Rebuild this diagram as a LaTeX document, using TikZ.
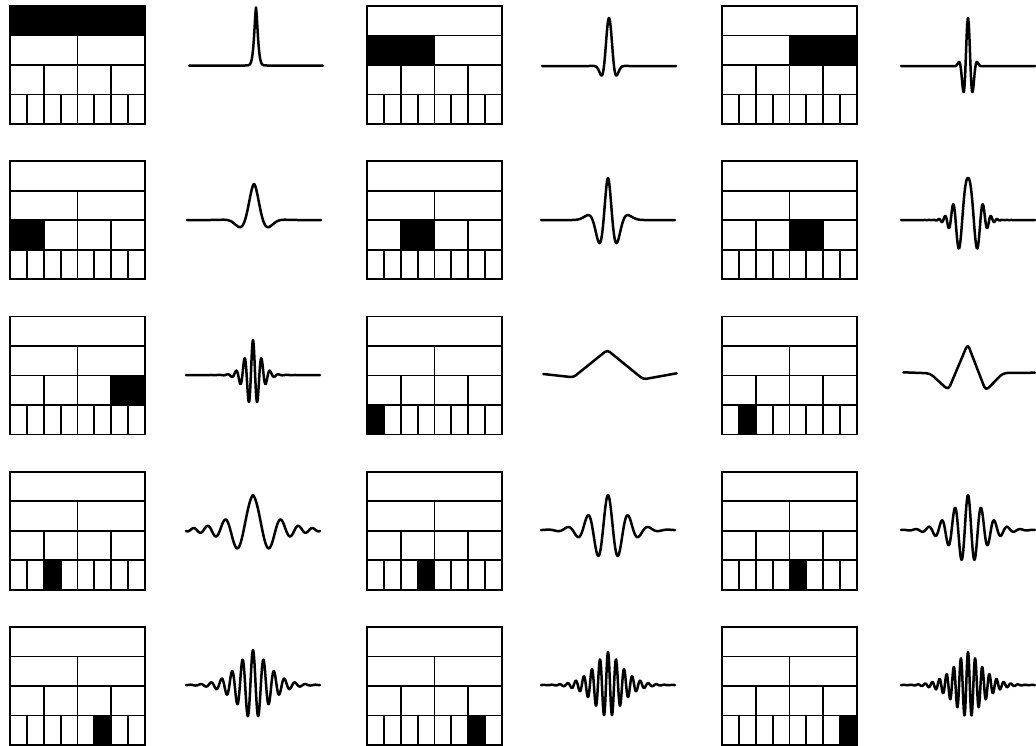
\documentclass[tikz,border=0pt]{standalone}
\usepackage{tikz}
\tikzset{
  boxline/.style={line width=1.8pt, line cap=rect},
  waveline/.style={line width=2.5pt, line join=round, line cap=round},
}
% x0, y0, level, index
\newcommand{\wpbox}[4]{%
  \pgfmathsetmacro{\wpcw}{135/(2^#3)}%
  \pgfmathsetmacro{\wpcx}{#1+#4*\wpcw}%
  \pgfmathsetmacro{\wpcy}{#2+#3*29.5}%
  \fill (\wpcx,\wpcy) rectangle ++(\wpcw,29.5);
  \draw[boxline] (#1,#2) rectangle ++(135,118);
  \foreach \r in {1,2,3} \draw[boxline] ({#1},{#2+\r*29.5}) -- ++(135,0);
  \foreach \r in {1,2,3}{%
    \pgfmathtruncatemacro{\wpnn}{2^\r-1}%
    \foreach \c in {1,...,\wpnn} \draw[boxline] ({#1+\c*135/2^\r},{#2+\r*29.5}) -- ++(0,29.5);
  }%
}
% cx, baseline, A, s, p, w, k
\newcommand{\wpwave}[7]{%
  \draw[waveline] plot[domain=-67:67, samples=401, variable=\t]
    ({#1+\t}, {#2-#3*exp(-min(pow(abs(\t)/#4+0.0001,#5),12))*cos(deg(#6*abs(\t)+#7*\t*\t))});
}
\begin{document}
\begin{tikzpicture}[x=1pt,y=-1pt]
\useasboundingbox (0,0) rectangle (1036,745);
% row 1
\wpbox{10}{6}{0}{0}
\wpwave{256}{65.5}{58}{2.5}{1.5}{0}{0}
\wpbox{367}{6}{1}{0}
\wpwave{609}{66}{48}{6.65}{2}{0.314}{0}
\wpbox{722}{6}{1}{1}
\wpwave{968}{66}{48}{6}{2}{0.628}{0}
% row 2
\wpbox{10}{161.25}{2}{0}
\wpwave{254}{220}{36}{11.45}{1.5}{0.175}{0}
\wpbox{367}{161.25}{2}{1}
\wpwave{608}{220}{42}{12.66}{1.5}{0.371}{-0.00426}
\wpbox{722}{161.25}{2}{2}
\wpwave{968}{220}{42}{15}{2}{0.1784}{0.01603}
% row 3
\wpbox{10}{316.5}{2}{3}
\wpwave{253}{375}{35}{10.3}{1.5}{0.74}{0}
\wpbox{367}{316.5}{3}{0}
\draw[waveline, rounded corners=3pt] (543.3,374) -- (573.3,377.3) -- (607.3,350) -- (643.3,379.3) -- (676.7,373.3);
\wpbox{722}{316.5}{3}{1}
\draw[waveline, rounded corners=4pt] (903.3,372.3) -- (930,373.3) -- (948.3,390) -- (967.7,344) -- (985.7,390.7) -- (1003,373) -- (1035,372.7);
% row 4
\wpbox{10}{471.75}{3}{2}
\wpwave{253}{530}{35}{23.5}{1.15}{0.1417}{0.00295}
\wpbox{367}{471.75}{3}{3}
\wpwave{608}{530}{35}{22}{1.5}{0.31}{0}
\wpbox{722}{471.75}{3}{4}
\wpwave{968}{530}{35}{22}{1.5}{0.48}{0}
% row 5
\wpbox{10}{627}{3}{5}
\wpwave{253}{685}{35}{22}{1.5}{0.6}{0}
\wpbox{367}{627}{3}{6}
\wpwave{608}{685}{33}{20}{1.5}{0.78}{0}
\wpbox{722}{627}{3}{7}
\wpwave{968}{685}{33}{20}{1.5}{0.88}{0}
\end{tikzpicture}
\end{document}
